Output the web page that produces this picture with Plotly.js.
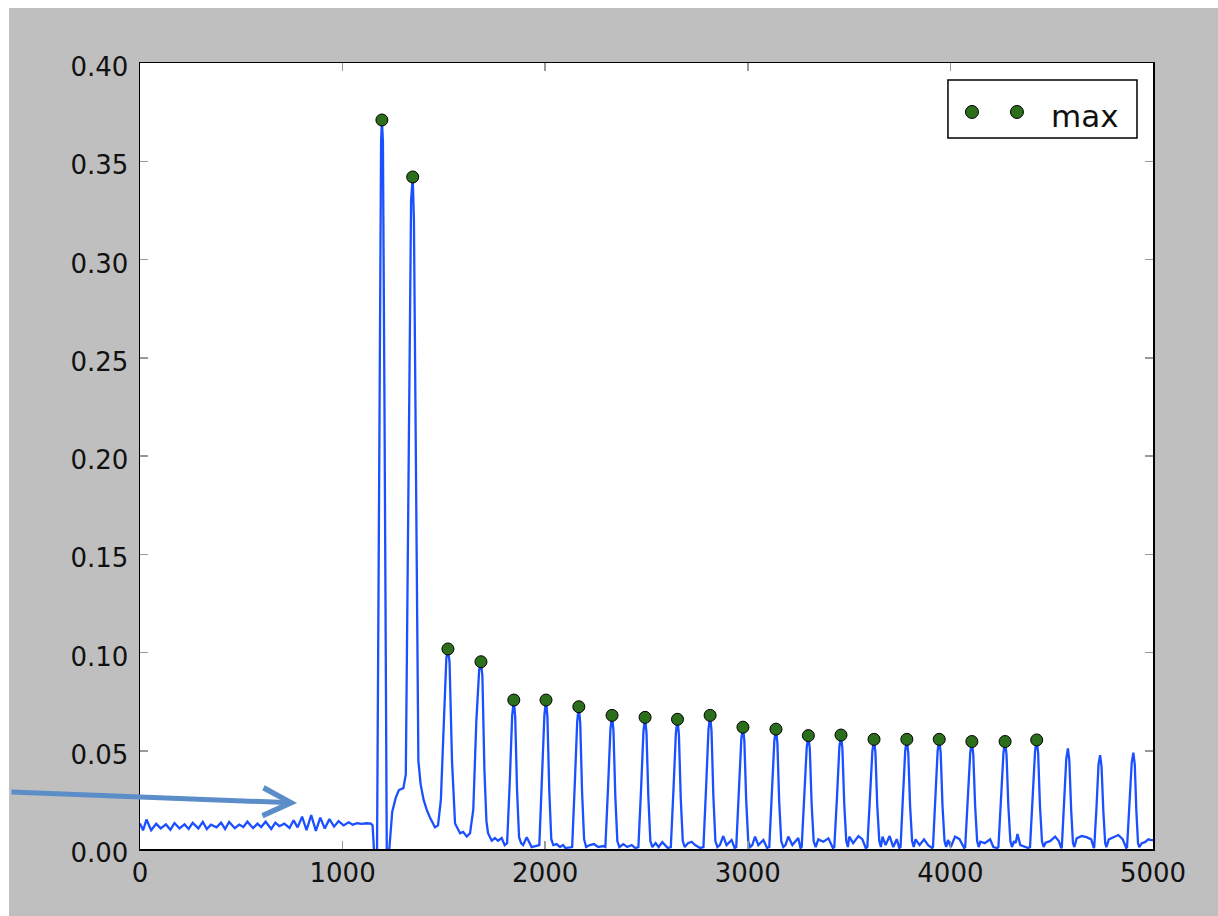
<!DOCTYPE html>
<html>
<head>
<meta charset="utf-8">
<script src="https://cdn.plot.ly/plotly-3.0.1.min.js"></script>
<style>
  html, body { margin: 0; padding: 0; background: #ffffff; }
  #chart { position: absolute; left: 9px; top: 8px; width: 1209px; height: 908px; }
</style>
</head>
<body>
<div id="chart"></div>
<script>
// noisy baseline before the onset (x 0..1140)
const noiseX = [0, 15, 32, 55, 80, 102, 128, 150, 170, 195, 220, 240, 260, 288, 310, 330, 350, 378, 400, 420,
  440, 468, 490, 510, 530, 558, 580, 598, 620, 648, 668, 688, 712, 738, 758, 778, 800, 822, 845, 868,
  890, 912, 935, 958, 980, 1005, 1030, 1050, 1072, 1095, 1118, 1140];
const noiseY = [0.013, 0.0095, 0.0150, 0.0095, 0.0128, 0.0105, 0.0125, 0.0098, 0.0132, 0.0105, 0.0125, 0.0102,
  0.0133, 0.0105, 0.0138, 0.0102, 0.0124, 0.0110, 0.0134, 0.0102, 0.0138, 0.0106, 0.0124, 0.0112, 0.0139,
  0.0106, 0.0129, 0.0112, 0.0139, 0.0102, 0.0134, 0.0116, 0.0129, 0.0107, 0.0146, 0.0110, 0.0165, 0.0096,
  0.0172, 0.0092, 0.0160, 0.0104, 0.0152, 0.0114, 0.0142, 0.0120, 0.0136, 0.0124, 0.0131, 0.0128, 0.0131, 0.0129];

// onset: the two big peaks and the next two
const onsetX = [1148, 1158, 1170, 1182, 1190, 1194, 1199, 1207, 1218, 1226, 1236, 1245, 1262, 1278, 1300, 1312,
  1338, 1346, 1352, 1374, 1385, 1400, 1415, 1431, 1456, 1471, 1485, 1500, 1512, 1520, 1528, 1540, 1555,
  1580, 1595, 1613, 1629, 1645, 1660, 1674, 1683, 1690, 1700, 1710, 1718, 1736, 1752, 1767, 1785, 1800];
const onsetY = [0.012, -0.006, 0.0, 0.22, 0.36, 0.371, 0.36, 0.22, 0.0, -0.006, 0.010, 0.019, 0.026, 0.030, 0.031, 0.038,
  0.33, 0.342, 0.32, 0.045, 0.033, 0.025, 0.020, 0.016, 0.011, 0.012, 0.025, 0.07, 0.097, 0.1018, 0.095, 0.045, 0.013,
  0.008, 0.0087, 0.0063, 0.008, 0.02, 0.065, 0.091, 0.0953, 0.088, 0.04, 0.014, 0.008, 0.0042, 0.0056, 0.0042, 0.0056, 0.002];

// regular train of smaller peaks
const trainX = [
  1812, 1825, 1837, 1845, 1852, 1861, 1871, 1881, 1891, 1909, 1920, 1933,
  1971, 1984, 1996, 2004, 2011, 2020, 2030, 2040, 2057, 2073, 2088, 2100,
  2133, 2146, 2158, 2166, 2173, 2182, 2192, 2202, 2220, 2240, 2262, 2285,
  2297, 2310, 2322, 2330, 2337, 2346, 2356, 2366, 2386, 2405, 2427, 2445,
  2460, 2473, 2485, 2493, 2500, 2509, 2519, 2529, 2545, 2560, 2578, 2605,
  2620, 2633, 2645, 2653, 2660, 2669, 2679, 2689, 2705, 2723, 2740, 2765,
  2781, 2794, 2806, 2814, 2821, 2830, 2840, 2850, 2862, 2879, 2895, 2920, 2935,
  2943, 2956, 2968, 2976, 2983, 2992, 3002, 3012, 3022, 3036, 3052, 3077, 3095,
  3106, 3119, 3131, 3139, 3146, 3155, 3165, 3175, 3186, 3200, 3220, 3249, 3260,
  3266, 3279, 3291, 3299, 3306, 3315, 3325, 3335, 3348, 3373, 3398, 3420,
  3427, 3440, 3452, 3460, 3467, 3476, 3486, 3494, 3501, 3520, 3546, 3565, 3582,
  3590, 3603, 3615, 3623, 3630, 3639, 3649, 3657, 3665, 3680, 3700, 3718, 3735, 3748,
  3754, 3765, 3777, 3785, 3792, 3801, 3811, 3819, 3828, 3848, 3870, 3890, 3910,
  3914, 3925, 3937, 3945, 3952, 3961, 3971, 3979, 3988, 4002, 4023, 4045, 4068,
  4073, 4086, 4098, 4106, 4113, 4122, 4132, 4140, 4148, 4170, 4196, 4212, 4232,
  4237, 4250, 4262, 4270, 4277, 4286, 4296, 4304, 4314, 4322, 4331, 4345, 4385,
  4393, 4406, 4418, 4426, 4433, 4442, 4452, 4460, 4470, 4492, 4517, 4535, 4547,
  4550, 4561, 4572, 4580, 4587, 4596, 4605, 4612, 4623, 4648, 4672, 4695, 4708,
  4710, 4721, 4731, 4739, 4746, 4755, 4764, 4770, 4782, 4805, 4829, 4850, 4868,
  4872, 4884, 4895, 4903, 4910, 4918, 4926, 4932, 4945, 4960, 4977, 4990, 5000];
const trainY = [
  0.003, 0.034, 0.068, 0.0758, 0.067, 0.030, 0.006, 0.003, 0.002, 0.006, 0.0037, 0.001,
  0.002, 0.034, 0.068, 0.0758, 0.067, 0.030, 0.005, 0.002, 0.0025, 0.001, 0.002, 0.0005,
  0.001, 0.033, 0.065, 0.0724, 0.064, 0.029, 0.005, 0.001, 0.002, 0.0025, 0.001, 0.0015,
  0.001, 0.031, 0.061, 0.068, 0.060, 0.027, 0.004, 0.001, 0.0025, 0.001, 0.002, 0.0005,
  0.001, 0.030, 0.060, 0.067, 0.059, 0.027, 0.004, 0.001, 0.003, 0.001, 0.0035, 0.0005,
  0.001, 0.030, 0.059, 0.066, 0.058, 0.026, 0.004, 0.001, 0.003, 0.0037, 0.002, 0.0005,
  0.001, 0.031, 0.061, 0.068, 0.060, 0.027, 0.004, 0.001, 0.002, 0.0066, 0.002, 0.0046, 0.0005,
  0.001, 0.028, 0.056, 0.062, 0.055, 0.025, 0.004, 0.001, 0.002, 0.0063, 0.002, 0.0046, 0.0005,
  0.001, 0.027, 0.055, 0.061, 0.054, 0.024, 0.004, 0.001, 0.002, 0.0063, 0.002, 0.0056, 0.0005,
  0.001, 0.026, 0.052, 0.0577, 0.051, 0.023, 0.004, 0.001, 0.0049, 0.0037, 0.0054, 0.0005,
  0.001, 0.026, 0.052, 0.058, 0.051, 0.023, 0.004, 0.001, 0.0063, 0.003, 0.0066, 0.005, 0.0005,
  0.001, 0.025, 0.050, 0.0558, 0.049, 0.022, 0.004, 0.001, 0.0063, 0.002, 0.0066, 0.001, 0.005, 0.0005,
  0.001, 0.025, 0.050, 0.0558, 0.049, 0.022, 0.004, 0.001, 0.0049, 0.002, 0.0049, 0.002, 0.0005,
  0.001, 0.025, 0.050, 0.0558, 0.049, 0.022, 0.004, 0.001, 0.0046, 0.001, 0.0063, 0.005, 0.0005,
  0.001, 0.024, 0.049, 0.0547, 0.048, 0.022, 0.004, 0.001, 0.0037, 0.003, 0.0049, 0.001, 0.0005,
  0.001, 0.024, 0.049, 0.0547, 0.048, 0.022, 0.004, 0.001, 0.004, 0.003, 0.0076, 0.002, 0.0005,
  0.001, 0.025, 0.050, 0.0555, 0.049, 0.022, 0.004, 0.001, 0.0032, 0.004, 0.0063, 0.004, 0.0005,
  0.001, 0.023, 0.046, 0.0512, 0.045, 0.020, 0.003, 0.001, 0.0054, 0.0066, 0.006, 0.0049, 0.0005,
  0.001, 0.021, 0.043, 0.0478, 0.042, 0.019, 0.003, 0.001, 0.0049, 0.006, 0.0071, 0.005, 0.0005,
  0.001, 0.022, 0.044, 0.049, 0.043, 0.019, 0.003, 0.001, 0.003, 0.0035, 0.0049, 0.0045, 0.0045];

// detected maxima
const maxX = [1194, 1346, 1520, 1683, 1845, 2004, 2166, 2330, 2493, 2653, 2814, 2976, 3139, 3299, 3460,
  3623, 3785, 3945, 4106, 4270, 4426];
const maxY = [0.371, 0.342, 0.1018, 0.0953, 0.0758, 0.0758, 0.0724, 0.068, 0.067, 0.066, 0.068, 0.062, 0.061,
  0.0577, 0.058, 0.0558, 0.0558, 0.0558, 0.0547, 0.0547, 0.0555];

const xTicks = [0, 1000, 2000, 3000, 4000, 5000];
const yTicks = [0.00, 0.05, 0.10, 0.15, 0.20, 0.25, 0.30, 0.35, 0.40];
const legendLabel = "max";

const markerGreen = "#2b6e1c";
const tickFont = { family: "DejaVu Sans", size: 26, color: "#111111" };

const signal = {
  x: noiseX.concat(onsetX, trainX),
  y: noiseY.concat(onsetY, trainY),
  type: "scatter",
  mode: "lines",
  line: { color: "#1a50ff", width: 2.3 },
  hoverinfo: "skip",
};

const peaks = {
  x: maxX,
  y: maxY,
  type: "scatter",
  mode: "markers",
  marker: { color: markerGreen, size: 12, line: { color: "#000000", width: 1 } },
  cliponaxis: false,
};

const axisBase = {
  showgrid: false,
  zeroline: false,
  showline: true,
  linecolor: "#000000",
  linewidth: 1.5,
  mirror: "allticks",
  ticks: "inside",
  ticklen: 8,
  tickwidth: 1.5,
  tickcolor: "#999999",
  tickfont: tickFont,
  fixedrange: true,
};

// legend box drawn by hand so it shows two sample markers like the original
const legBox = { x0: 0.7976, x1: 0.9842, y0: 0.9046, y1: 0.9784 };
const legDots = [0.8213, 0.8657];
const legDotY = 0.9377;

const shapes = [
  {
    type: "rect", xref: "paper", yref: "paper",
    x0: legBox.x0, x1: legBox.x1, y0: legBox.y0, y1: legBox.y1,
    line: { color: "#000000", width: 1.5 }, fillcolor: "#ffffff",
  },
].concat(legDots.map((px) => ({
  type: "circle", xref: "paper", yref: "paper",
  xsizemode: "pixel", ysizemode: "pixel",
  xanchor: px, yanchor: legDotY,
  x0: -6.5, x1: 6.5, y0: -6.5, y1: 6.5,
  fillcolor: markerGreen, line: { color: "#000000", width: 1 },
})));

const layout = {
  width: 1209,
  height: 908,
  margin: { l: 131, r: 65, t: 55, b: 67 },
  paper_bgcolor: "#bfbfbf",
  plot_bgcolor: "#ffffff",
  showlegend: false,
  xaxis: Object.assign({}, axisBase, {
    range: [0, 5000],
    tickvals: xTicks,
    ticktext: xTicks.map(String),
    ticklabelstandoff: 0,
  }),
  yaxis: Object.assign({}, axisBase, {
    range: [0, 0.4],
    tickvals: yTicks,
    ticktext: yTicks.map((v) => v.toFixed(2)),
    ticklabelstandoff: 5,
    ticklabelshift: 4,
  }),
  shapes: shapes,
  annotations: [
    {
      xref: "paper", yref: "paper",
      x: 0.8975, y: 0.9326,
      xanchor: "left", yanchor: "middle",
      text: legendLabel,
      showarrow: false,
      font: { family: "DejaVu Sans", size: 31, color: "#111111" },
    },
    {
      // the pointer arrow at the lower left
      xref: "x", yref: "y",
      x: 775, y: 0.0234,
      ax: -287, ay: -11,
      text: "",
      showarrow: true,
      arrowhead: 5,
      arrowsize: 1.1,
      arrowwidth: 5,
      arrowcolor: "#5b8dc8",
      standoff: 0,
    },
  ],
};

Plotly.newPlot("chart", [signal, peaks], layout, { displayModeBar: false, staticPlot: true });
</script>
</body>
</html>
